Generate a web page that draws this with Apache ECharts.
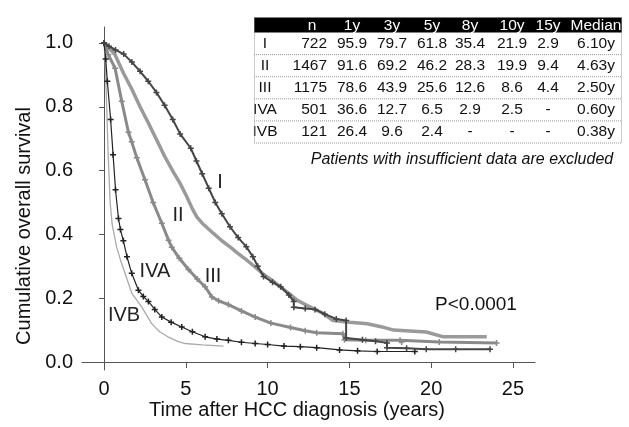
<!DOCTYPE html>
<html>
<head>
<meta charset="utf-8">
<script src="https://cdn.jsdelivr.net/npm/echarts@6/dist/echarts.min.js"></script>
<style>
html,body{margin:0;padding:0;background:#fff;}
#c{width:629px;height:427px;}
</style>
</head>
<body>
<div id="c"></div>
<script>
// ---- data (time in years, cumulative survival) ----
const tI   = [0,0.3,0.7,1.2,1.7,2.2,2.7,3.2,3.7,4.2,4.65,5.3,5.65,6.0,6.4,6.8,7.2,7.7,8.2,8.7,9.1,9.4,9.75,10.3,10.8,11.3,11.6,11.6,12.3,12.9,13.5,14.2,14.8,14.8,15.8,16.6,17.3,17.3,18.5,19.7,21.5,23.6];
const sI   = [1,0.99,0.978,0.965,0.94,0.911,0.88,0.845,0.805,0.76,0.715,0.67,0.63,0.59,0.545,0.50,0.465,0.424,0.39,0.361,0.33,0.30,0.268,0.25,0.236,0.21,0.19,0.172,0.168,0.165,0.15,0.135,0.13,0.075,0.07,0.065,0.06,0.045,0.043,0.04,0.04,0.04];
const tII  = [0,0.3,0.67,1.18,1.7,2.2,2.7,3.22,3.7,4.24,4.65,5.06,5.4,5.67,6.0,6.69,7.2,7.7,8.2,8.73,9.3,9.74,10.3,10.76,11.3,11.8,12.5,13.4,14,15,16.1,17.0,17.7,19.7,20.75,23.4];
const sII  = [1,0.985,0.963,0.906,0.855,0.80,0.75,0.696,0.645,0.595,0.56,0.518,0.48,0.455,0.435,0.403,0.38,0.361,0.34,0.319,0.295,0.275,0.255,0.236,0.215,0.194,0.175,0.152,0.13,0.125,0.12,0.11,0.10,0.094,0.079,0.079];
const tIII = [0,0.26,0.67,1.08,1.49,1.69,2.0,2.5,3.0,3.53,3.94,4.14,4.6,5.16,5.7,6.18,6.59,7.0,7.6,8.4,9.24,10.2,11.4,12.3,13,14.6,14.7,16,18.1,18.2,20.5,24];
const sIII = [1,0.963,0.921,0.817,0.72,0.69,0.64,0.571,0.50,0.435,0.382,0.36,0.325,0.29,0.26,0.236,0.204,0.192,0.18,0.16,0.141,0.122,0.108,0.098,0.092,0.089,0.07,0.068,0.068,0.063,0.063,0.06];
const tIVA = [0,0.1,0.2,0.4,0.55,0.7,0.88,1.0,1.18,1.4,1.69,2.1,2.4,2.71,3.1,3.53,4.1,4.75,5.4,6.18,6.9,7.6,8.4,9.24,10,11,12,13,14.4,15.5,16.7,19];
const sIVA = [1,0.95,0.88,0.76,0.65,0.54,0.45,0.415,0.38,0.33,0.278,0.225,0.205,0.19,0.165,0.141,0.125,0.11,0.095,0.079,0.072,0.068,0.062,0.058,0.055,0.05,0.048,0.045,0.038,0.035,0.033,0.033];
const tIVB = [0,0.08,0.16,0.25,0.37,0.5,0.77,1.0,1.28,1.7,2.3,2.9,3.4,3.9,4.5,4.95,6.0,7.3];
const sIVB = [1,0.93,0.8,0.65,0.5,0.43,0.36,0.32,0.278,0.215,0.173,0.121,0.095,0.079,0.065,0.058,0.054,0.05];

const xTicks = [0,5,10,15,20,25];
const yTicks = [0,0.2,0.4,0.6,0.8,1.0];

const tableHeader = ['', 'n', '1y', '3y', '5y', '8y', '10y', '15y', 'Median'];
const tableRows = [
  ['I',   '722',  '95.9', '79.7', '61.8', '35.4', '21.9', '2.9', '6.10y'],
  ['II',  '1467', '91.6', '69.2', '46.2', '28.3', '19.9', '9.4', '4.63y'],
  ['III', '1175', '78.6', '43.9', '25.6', '12.6', '8.6',  '4.4', '2.50y'],
  ['IVA', '501',  '36.6', '12.7', '6.5',  '2.9',  '2.5',  '-',   '0.60y'],
  ['IVB', '121',  '26.4', '9.6',  '2.4',  '-',    '-',    '-',   '0.38y']
];
const tableNote = 'Patients with insufficient data are excluded';
const pValue = 'P<0.0001';
const curveLabels = [
  {text:'I',   x:220, y:182},
  {text:'II',  x:178, y:215},
  {text:'III', x:213, y:276},
  {text:'IVA', x:155, y:271},
  {text:'IVB', x:124, y:315}
];

const FONT = '"Liberation Sans", Arial, Helvetica, sans-serif';
const zip = (t, s) => t.map((v, i) => [v, s[i]]);
const plus = 'path://M3,0H5V3H8V5H5V8H3V5H0V3H3Z';

function curve(name, data, color, width, marks, z) {
  return {
    type: 'line', name: name, data: data, z: z,
    showSymbol: marks, symbol: plus, symbolSize: 6,
    itemStyle: {color: color},
    lineStyle: {color: color, width: width},
    emphasis: {disabled: true}, animation: false
  };
}

// ---- table graphics ----
const colX = [265, 327, 352, 392, 432, 470, 512, 548, 596];
const colAlign = ['center','right','center','center','center','center','center','center','center'];
const tLeft = 254, tRight = 622, hTop = 17.5, hBot = 32.5, rowH = 22.1;
const g = [];
g.push({type:'rect', shape:{x:tLeft, y:hTop, width:tRight-tLeft, height:hBot-hTop}, style:{fill:'#000'}});
tableHeader.forEach((h, i) => {
  g.push({type:'text', x: i===1 ? 312 : colX[i], y:(hTop+hBot)/2+0.5,
    style:{text:h, fill:'#fff', font:'15.5px '+FONT, align:'center', verticalAlign:'middle'}});
});
tableRows.forEach((row, r) => {
  const yc = hBot + rowH*(r+0.5);
  row.forEach((cell, i) => {
    g.push({type:'text', x:colX[i], y:yc,
      style:{text:cell, fill:'#111', font:'15.5px '+FONT, align:colAlign[i], verticalAlign:'middle'}});
  });
  const yl = hBot + rowH*(r+1);
  g.push({type:'line', shape:{x1:tLeft, y1:yl, x2:tRight, y2:yl}, style:{stroke:'#999', lineWidth:1, lineDash:[1,1]}});
});
const tBot = hBot + rowH*tableRows.length;
g.push({type:'line', shape:{x1:tLeft+0.5, y1:hTop, x2:tLeft+0.5, y2:tBot}, style:{stroke:'#999', lineWidth:1, lineDash:[1,1]}});
g.push({type:'line', shape:{x1:tRight-0.5, y1:hTop, x2:tRight-0.5, y2:tBot}, style:{stroke:'#999', lineWidth:1, lineDash:[1,1]}});
g.push({type:'text', x:462, y:160, style:{text:tableNote, fill:'#111', font:'italic 16px '+FONT, align:'center', verticalAlign:'middle'}});
g.push({type:'text', x:476, y:305, style:{text:pValue, fill:'#111', font:'19px '+FONT, align:'center', verticalAlign:'middle'}});
curveLabels.forEach(l => {
  g.push({type:'text', x:l.x, y:l.y, style:{text:l.text, fill:'#222', font:'20px '+FONT, align:'center', verticalAlign:'middle'}});
});
g.push({type:'text', x:297, y:410, style:{text:'Time after HCC diagnosis (years)', fill:'#111', font:'20px '+FONT, align:'center', verticalAlign:'middle'}});
g.push({type:'text', x:24, y:226, rotation:Math.PI/2, style:{text:'Cumulative overall survival', fill:'#111', font:'20px '+FONT, align:'center', verticalAlign:'middle'}});

const axisCommon = {
  axisLine:{show:true, lineStyle:{color:'#555', width:1}},
  axisTick:{show:true, inside:false, length:5, lineStyle:{color:'#555'}},
  splitLine:{show:false}
};

const chart = echarts.init(document.getElementById('c'), null, {renderer:'canvas'});
chart.setOption({
  backgroundColor:'#fff',
  animation:false,
  grid:{left:82, right:94, top:27, bottom:57, containLabel:false},
  xAxis:Object.assign({}, axisCommon, {
    type:'value', min:-1.35, max:26.35,
    axisTick:Object.assign({}, axisCommon.axisTick, {customValues:xTicks, length:6}),
    axisLabel:{customValues:xTicks, color:'#111', fontSize:20, fontFamily:FONT, margin:9}
  }),
  yAxis:Object.assign({}, axisCommon, {
    type:'value', min:-0.025, max:1.05,
    axisTick:Object.assign({}, axisCommon.axisTick, {customValues:yTicks}),
    axisLabel:{customValues:yTicks, color:'#111', fontSize:20, fontFamily:FONT, margin:9,
      formatter:v => v.toFixed(1)}
  }),
  series:[
    curve('IVB', zip(tIVB, sIVB), '#aaaaaa', 1.3, false, 2),
    curve('II',  zip(tII, sII),   '#9a9a9a', 3.5, false, 3),
    curve('III', zip(tIII, sIII), '#8a8a8a', 3,   true,  4),
    curve('IVA', zip(tIVA, sIVA), '#222222', 1.2, true, 5),
    curve('I',   zip(tI, sI),     '#454545', 2,   true, 6)
  ],
  graphic:g
});
</script>
</body>
</html>
